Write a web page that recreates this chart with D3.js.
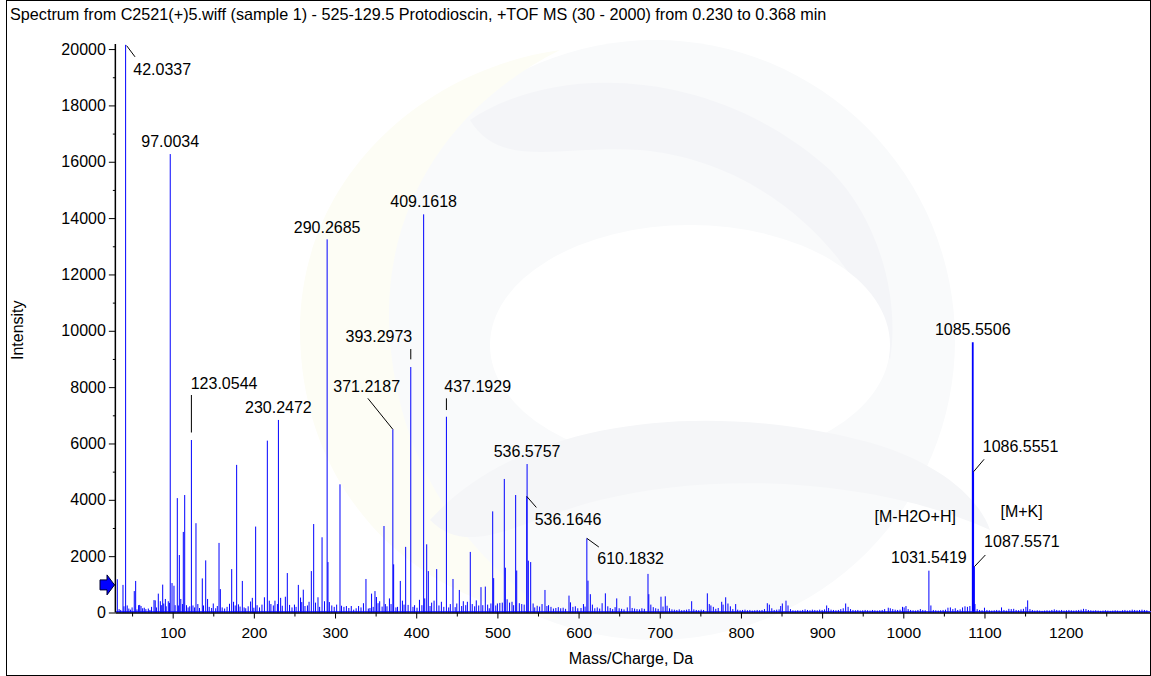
<!DOCTYPE html>
<html><head><meta charset="utf-8">
<script src="https://cdn.jsdelivr.net/npm/d3@7/dist/d3.min.js"></script>
<style>
body{margin:0;background:#fff}
svg{display:block}
text{font-family:"Liberation Sans",Arial,sans-serif;fill:#000}
</style>
</head><body>
<svg id="chart" width="1151" height="676"></svg>
<script>
// ---------------- DATA ----------------
const titleText = "Spectrum from C2521(+)5.wiff (sample 1) - 525-129.5 Protodioscin, +TOF MS (30 - 2000) from 0.230 to 0.368 min";
const xLabelText = "Mass/Charge, Da";
const yLabelText = "Intensity";
const xTickValues = [100,200,300,400,500,600,700,800,900,1000,1100,1200];
const yTickValues = [0,2000,4000,6000,8000,10000,12000,14000,16000,18000,20000];
const mzRange = [30, 1305];
const intensityMax = 20180;
const thresholdLevel = 980;
const baselineLevel = 25;

// main + medium peaks (m/z, intensity)
const majorMz = [31.8,38.8,42.0337,52.7,54.4,59.4,77.0,78.5,82.3,84.8,87.7,91.0,94.6,97.0034,99.2,101.6,105.7,108.2,113.1,114.8,123.0544,128.7,136.5,140.7,157.1,158.7,172.7,178.8,185.8,198.1,202.2,216.6,230.2472,238.8,241.2,254.8,257.5,260.9,270.8,273.7,284.0,290.2685,291.3,306.1,338.1,345,349.2,360.3,371.2187,372.2,380.4,387.0,393.2973,409.1618,410.5,412.9,414.9,425.2,437.1929,445.3,453.1,466.6,479.8,485.1,494.2,495.4,508.5,509.8,522.5,523.8,536.1646,536.5757,538.1,541.0,558.6,588.2,610.1832,611.6,614.5,633,647,663.3,685.5,686.5,701.5,706.8,739.3,758.6,776.3,781.2,793.5,832.5,851,855.5,905.6,929,981.5,1003.3,1031.5419,1085.5506,1086.5551,1087.5571,1088.3,1153.2];
const majorInt = [1180,980,20150,760,1120,270,440,430,670,400,990,480,400,16273,1045,950,4060,2040,2860,4170,6123,3170,1210,1850,2470,830,1540,5240,1120,520,3050,6100,6835,560,1400,980,530,810,1470,3140,2670,13246,1790,4550,1190,670,760,3070,6502,1710,1120,2330,8713,14133,500,2420,1470,1540,6949,1190,800,2150,900,920,3590,1220,4740,1590,4170,1490,4120,5270,1840,1790,800,600,2633,1130,650,680,500,580,1370,650,560,575,400,680,380,540,300,330,320,420,250,320,170,230,1485,9590,4997,1626,300,430];

// small baseline peaks (m/z, intensity)
const minorMz = [34,36,40,44,46,48,50,56,58,61,63,65,67,70,72,74,80,86,89,92,96,
103,107,110,112,117,119,121,125,127,131,133,138,143,145,148,150,153,155,161,164,167,170,175,177,181,183,188,190,193,196,200,
204,207,210,213,219,221,224,226,229,233,235,244,247,250,252,259,263,266,268,276,279,281,287,293,296,299,
302,308,311,314,317,320,323,326,329,332,335,341,343,347,351,353,355,358,362,364,367,369,375,377,383,385,390,396,398,401,404,
407,417,419,422,428,431,434,440,442,448,450,456,458,461,463,469,472,474,477,482,488,490,492,498,500,
503,506,512,515,518,520,527,530,533,544,546,549,552,555,561,563,566,569,572,575,578,581,584,590,593,596,599,
603,606,608,617,620,623,626,629,636,639,642,645,650,653,656,660,666,669,672,675,678,681,689,692,695,698,704,709,712,715,718,
721,724,727,730,733,736,742,745,748,751,754,761,763,766,769,772,778,784,787,790,796,799,
802,805,808,811,814,817,820,823,826,829,835,838,841,844,847,849,858,861,864,867,870,873,876,879,882,885,888,891,894,897,
900,903,908,911,914,917,920,923,926,932,935,938,941,944,947,950,953,956,959,962,965,968,971,974,977,984,987,990,993,996,999,1001,1006,
1009,1012,1015,1018,1021,1024,1027,1034,1037,1040,1043,1046,1049,1052,1055,1058,1061,1064,1067,1070,1073,1076,1079,1082,1091,1094,1097,1100,
1103,1106,1109,1112,1115,1118,1121,1124,1127,1130,1133,1136,1139,1142,1145,1148,1151,1156,1159,1162,1165,1168,1171,1174,1177,1180,1183,1186,1189,1192,1195,1198,
1201,1204,1207,1210,1213,1216,1219,1222,1225,1228,1231,1234,1237,1240,1243,1246,1249,1252,1255,1258,1261,1264,1267,1270,1273,1276,1279,1282,1285,1288,1291,1294,1297,1300];
const minorInt = [120,90,220,250,140,100,180,110,260,230,150,170,120,140,90,200,180,260,320,220,340,
260,250,480,300,260,180,220,250,180,300,160,250,480,200,160,320,150,230,180,140,200,310,380,250,290,210,180,150,220,390,170,
260,180,280,540,420,300,250,420,300,520,240,270,180,280,200,370,230,250,380,350,540,200,400,370,250,200,
280,240,200,230,160,230,100,150,230,180,330,140,160,200,550,330,400,210,300,220,500,300,180,200,420,280,270,200,260,170,450,
260,230,350,420,250,380,200,180,300,190,320,230,400,260,380,300,220,430,250,260,280,150,320,250,320,
340,350,470,350,380,260,330,300,280,320,180,240,210,300,230,260,200,140,160,190,150,170,130,360,200,220,150,
160,300,210,280,150,180,140,330,220,160,120,190,150,130,110,180,160,140,120,110,150,130,280,190,150,130,210,240,150,110,100,
90,110,80,90,100,120,110,90,80,100,90,300,250,200,130,160,280,320,220,120,100,80,
90,100,80,90,70,80,90,80,90,120,280,150,90,100,110,230,250,120,80,70,80,70,90,110,90,80,100,90,80,100,
90,110,160,100,90,80,90,120,150,200,120,90,80,90,70,80,90,80,70,90,80,70,80,90,120,150,120,100,90,100,200,180,120,
90,80,70,90,120,90,80,250,90,80,70,80,90,100,170,180,120,150,90,110,180,220,200,230,120,90,80,170,
90,80,70,80,90,80,180,90,70,130,120,130,90,80,110,130,200,120,90,70,80,70,60,70,80,70,90,110,90,80,90,70,
80,90,80,70,80,90,100,130,120,90,80,70,80,70,60,70,80,70,60,70,80,70,60,80,90,70,80,100,90,80,90,100,90,80];

// peak labels
const labelMz = [42.0337,97.0034,123.0544,230.2472,290.2685,371.2187,393.2973,409.1618,437.1929,536.5757,536.1646,610.1832,1031.5419,1085.5506,1086.5551,1087.5571];
const labelText = ["42.0337","97.0034","123.0544","230.2472","290.2685","371.2187","393.2973","409.1618","437.1929","536.5757","536.1646","610.1832","1031.5419","1085.5506","1086.5551","1087.5571"];
const annotationText = ["[M-H2O+H]","[M+K]"];
const annotationAnchorMz = [1031.5419, 1087.5571];

// ---------------- LAYOUT (pixel offsets relative to peak tops) ----------------
const labelLayout = {
  "42.0337":  {anchor:"start", dx:7.7,  dy:29.7, leader:[1,0.8,9.4,12]},
  "97.0034":  {anchor:"middle",dx:0,    dy:-7},
  "123.0544": {anchor:"start", dx:-0.7, dy:-51,  leader:[0,-45,0,-7.5]},
  "230.2472": {anchor:"middle",dx:0,    dy:-6.7},
  "290.2685": {anchor:"middle",dx:0,    dy:-6.6},
  "371.2187": {anchor:"end",   dx:7.2,  dy:-37.6,leader:[-25,-31,0,0]},
  "393.2973": {anchor:"end",   dx:1.5,  dy:-24.7,leader:[0,-18,0,-7.7]},
  "409.1618": {anchor:"middle",dx:0,    dy:-7},
  "437.1929": {anchor:"start", dx:-2.1, dy:-25,  leader:[0,-18.4,0,-6.7]},
  "536.5757": {anchor:"middle",dx:0,    dy:-7.3},
  "536.1646": {anchor:"start", dx:7.9,  dy:28.6, leader:[0,0,9.6,11]},
  "610.1832": {anchor:"start", dx:10.4, dy:26,   leader:[0,0,12,8.7]},
  "1031.5419":{anchor:"middle",dx:0,    dy:-7.4},
  "1085.5506":{anchor:"middle",dx:0,    dy:-7.3},
  "1086.5551":{anchor:"start", dx:9.2,  dy:-20,  leader:[0,0,10.5,-12.4]},
  "1087.5571":{anchor:"start", dx:9.7,  dy:-19.4,leader:[0,0,11,-11.7]}
};
const annotationLayout = [{dx:-13.7, dy:-49},{dx:47.2, dy:-50}];
const M = {left:115.85, right:1151, top:44, bottom:612.5};

// ---------------- DRAW ----------------
const svg = d3.select("#chart");
const W = 1151, H = 676;
const x = d3.scaleLinear().domain(mzRange).range([M.left, 91.5 + 0.8118*mzRange[1]]);
const y = d3.scaleLinear().domain([0, intensityMax]).range([M.bottom, M.top]);

// faint watermark logo
const wm = svg.append("g").attr("class","watermark");
wm.append("circle").attr("cx",655).attr("cy",340).attr("r",300).attr("fill","#f9fafb");
wm.append("path").attr("d","M300,330 C300,180 420,70 560,50 C440,110 380,220 390,340 C400,470 470,560 560,620 C400,600 300,480 300,330 Z").attr("fill","#fdfdf5");
wm.append("path").attr("d","M470,120 C560,60 720,70 830,170 C880,220 900,300 890,360 C860,250 760,160 640,150 C560,145 500,170 470,120 Z").attr("fill","#f4f5f8");
wm.append("ellipse").attr("cx",690).attr("cy",345).attr("rx",200).attr("ry",120).attr("fill","#ffffff");
wm.append("path").attr("d","M430,520 C520,420 700,400 860,440 C940,460 980,500 990,530 C880,480 720,470 600,500 C520,520 470,560 430,520 Z").attr("fill","#f5f6f8");

// frame
svg.append("rect").attr("x",6.5).attr("y",0.5).attr("width",W-7).attr("height",H-1)
  .attr("fill","none").attr("stroke","#000").attr("stroke-width",1);

// title
svg.append("text").attr("x",10).attr("y",20).style("font-size","16.2px").text(titleText);

// peaks
const peaks = majorMz.map((m,i)=>({mz:m, v:majorInt[i]}))
  .concat(minorMz.map((m,i)=>({mz:m, v:minorInt[i]})));
const gp = svg.append("g").attr("class","peaks");
gp.append("line").attr("x1",x(mzRange[0])).attr("x2",x(mzRange[1]))
  .attr("y1",y(baselineLevel)).attr("y2",y(baselineLevel))
  .attr("stroke","#3a3aff").attr("stroke-width",1.5);
gp.selectAll("line.pk").data(peaks).join("line").attr("class","pk")
  .attr("x1",d=>x(d.mz)).attr("x2",d=>x(d.mz))
  .attr("y1",y(0)).attr("y2",d=>y(Math.min(d.v,intensityMax)))
  .attr("stroke","#0000ff").attr("stroke-width",d=>d.v>9000 && d.mz>1000 ? 1.8 : 1);

// axes
const xAxis = d3.axisBottom(x).tickValues(xTickValues).tickSize(6).tickPadding(8).tickFormat(d3.format("d"));
const xMinor = d3.axisBottom(x).tickValues(d3.range(50,1301,50).filter(v=>v%100!==0)).tickSize(4).tickFormat("");
const yAxis = d3.axisLeft(y).tickValues(yTickValues).tickSize(7).tickPadding(3).tickFormat(d3.format("d"));
const yMinor = d3.axisLeft(y).tickValues(d3.range(1000,20001,2000)).tickSize(3).tickFormat("");

const gx = svg.append("g").attr("transform",`translate(0,${M.bottom})`).call(xAxis);
svg.append("g").attr("transform",`translate(0,${M.bottom})`).call(xMinor).select(".domain").remove();
const gy = svg.append("g").attr("transform",`translate(${M.left},0)`).call(yAxis);
svg.append("g").attr("transform",`translate(${M.left},0)`).call(yMinor).select(".domain").remove();
[gx,gy].forEach(g=>{
  g.select(".domain").attr("stroke","#000").attr("stroke-width",1.5);
  g.selectAll(".tick line").attr("stroke","#000");
});
gx.selectAll(".tick text").style("font-size","15.5px").style("font-family","'Liberation Sans',Arial,sans-serif");
gy.selectAll(".tick text").style("font-size","16px").style("font-family","'Liberation Sans',Arial,sans-serif");
gx.select(".domain").attr("d",`M${x(mzRange[0])},0.5H${x(mzRange[1])}`);
gy.select(".domain").attr("d",`M-0.5,${y(0)}V${y(intensityMax)}`);

// axis titles
svg.append("text").attr("x",631).attr("y",664).attr("text-anchor","middle").style("font-size","16px").text(xLabelText);
svg.append("text").attr("transform",`translate(23,${(M.top+M.bottom)/2 + 2}) rotate(-90)`)
  .attr("text-anchor","middle").style("font-size","16px").text(yLabelText);

// threshold arrow
const ay = y(thresholdLevel);
svg.append("path")
  .attr("d",`M100,${ay-5} H107 V${ay-10} L114.5,${ay} L107,${ay+10} V${ay+5} H100 Z`)
  .attr("fill","#0000ff").attr("stroke","#000033").attr("stroke-width",1);

// labels
const gl = svg.append("g").attr("class","labels");
labelMz.forEach((m,i)=>{
  const all = majorMz.indexOf(m);
  const px = x(m), py = y(Math.min(majorInt[all], intensityMax));
  const L = labelLayout[labelText[i]];
  if (L.leader) {
    gl.append("line").attr("x1",px+L.leader[0]).attr("y1",py+L.leader[1])
      .attr("x2",px+L.leader[2]).attr("y2",py+L.leader[3])
      .attr("stroke","#000").attr("stroke-width",1);
  }
  gl.append("text").attr("x",px+L.dx).attr("y",py+L.dy).attr("text-anchor",L.anchor)
    .style("font-size","16px").text(labelText[i]);
});
annotationText.forEach((t,i)=>{
  const idx = majorMz.indexOf(annotationAnchorMz[i]);
  const px = x(annotationAnchorMz[i]), py = y(majorInt[idx]);
  gl.append("text").attr("x",px+annotationLayout[i].dx).attr("y",py+annotationLayout[i].dy)
    .attr("text-anchor","middle").style("font-size","16px").text(t);
});
</script>
</body></html>
